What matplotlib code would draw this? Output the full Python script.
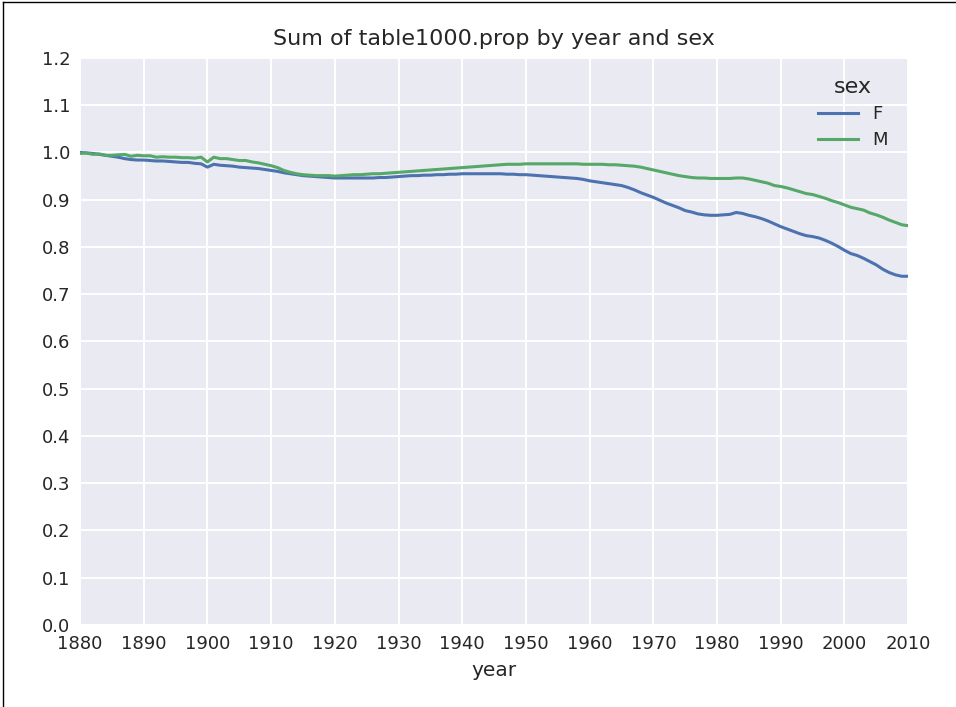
import matplotlib
matplotlib.use("Agg")
import matplotlib.pyplot as plt
from matplotlib.lines import Line2D

years = list(range(1880, 2011))

# Share of births covered by the top 1000 names, females
prop_f = [
    1.000, 0.999, 0.998, 0.996, 0.994, 0.992, 0.990, 0.987, 0.985, 0.984,
    0.984, 0.983, 0.982, 0.982, 0.981, 0.980, 0.979, 0.979, 0.977, 0.976,
    0.969, 0.975, 0.973, 0.972, 0.971, 0.969, 0.968, 0.967, 0.966, 0.964,
    0.962, 0.960, 0.957, 0.955, 0.953, 0.951, 0.950, 0.949, 0.948, 0.947,
    0.946, 0.946, 0.946, 0.946, 0.946, 0.946, 0.946, 0.947, 0.947, 0.948,
    0.949, 0.950, 0.951, 0.951, 0.952, 0.952, 0.953, 0.953, 0.954, 0.954,
    0.955, 0.955, 0.955, 0.955, 0.955, 0.955, 0.955, 0.954, 0.954, 0.953,
    0.953, 0.952, 0.951, 0.950, 0.949, 0.948, 0.947, 0.946, 0.945, 0.943,
    0.940, 0.938, 0.936, 0.934, 0.932, 0.930, 0.926, 0.921, 0.915, 0.910,
    0.905, 0.899, 0.893, 0.888, 0.883, 0.877, 0.874, 0.870, 0.868, 0.867,
    0.867, 0.868, 0.869, 0.873, 0.871, 0.867, 0.864, 0.860, 0.855, 0.849,
    0.843, 0.838, 0.833, 0.828, 0.824, 0.822, 0.819, 0.814, 0.808, 0.801,
    0.793, 0.786, 0.782, 0.776, 0.769, 0.762, 0.753, 0.746, 0.741, 0.738,
    0.738,
]

# Share of births covered by the top 1000 names, males
prop_m = [
    0.998, 0.999, 0.996, 0.997, 0.994, 0.994, 0.995, 0.996, 0.992, 0.994,
    0.993, 0.993, 0.990, 0.991, 0.990, 0.990, 0.989, 0.989, 0.988, 0.990,
    0.980, 0.990, 0.987, 0.987, 0.985, 0.983, 0.983, 0.980, 0.978, 0.975,
    0.972, 0.968, 0.962, 0.958, 0.955, 0.953, 0.952, 0.951, 0.951, 0.951,
    0.950, 0.951, 0.952, 0.953, 0.953, 0.954, 0.955, 0.955, 0.956, 0.957,
    0.958, 0.959, 0.960, 0.961, 0.962, 0.963, 0.964, 0.965, 0.966, 0.967,
    0.968, 0.969, 0.970, 0.971, 0.972, 0.973, 0.974, 0.975, 0.975, 0.975,
    0.976, 0.976, 0.976, 0.976, 0.976, 0.976, 0.976, 0.976, 0.976, 0.975,
    0.975, 0.975, 0.975, 0.974, 0.974, 0.973, 0.972, 0.971, 0.969, 0.966,
    0.963, 0.960, 0.957, 0.954, 0.951, 0.949, 0.947, 0.946, 0.946, 0.945,
    0.945, 0.945, 0.945, 0.946, 0.946, 0.944, 0.941, 0.938, 0.935, 0.930,
    0.928, 0.925, 0.921, 0.917, 0.913, 0.911, 0.907, 0.903, 0.898, 0.894,
    0.889, 0.884, 0.881, 0.878, 0.872, 0.868, 0.863, 0.857, 0.852, 0.847,
    0.845,
]

series_labels = ["F", "M"]
series_colors = ["#4C72B0", "#55A868"]
x_ticks = list(range(1880, 2011, 10))
y_ticks = [round(0.1 * i, 1) for i in range(13)]

text_color = "#262626"
plt.rcParams["font.family"] = ["DejaVu Sans"]

fig = plt.figure(figsize=(9.56, 7.07), dpi=100)
ax = fig.add_axes([0.0837, 0.116, 0.8663, 0.802])
ax.set_facecolor("#EAEAF2")
for s in ax.spines.values():
    s.set_visible(False)
ax.grid(True, color="white", linewidth=1.4)
ax.set_axisbelow(True)

for vals, lab, col in zip([prop_f, prop_m], series_labels, series_colors):
    ax.plot(years, vals, color=col, linewidth=2.2, label=lab)

ax.set_xlim(1880, 2010)
ax.set_ylim(0.0, 1.2)
ax.set_xticks(x_ticks)
ax.set_yticks(y_ticks)
ax.set_yticklabels([f"{v:.1f}" for v in y_ticks])
ax.tick_params(axis="both", length=0, labelsize=13, colors=text_color, pad=7)
ax.set_xlabel("year", fontsize=14.5, color=text_color, labelpad=6)
ax.set_title("Sum of table1000.prop by year and sex", fontsize=16,
             color=text_color, pad=9)

leg = ax.legend(title="sex", frameon=False, fontsize=13, title_fontsize=16,
                loc="upper right", bbox_to_anchor=(0.995, 0.995),
                handlelength=2.2, labelspacing=0.45)
for t in leg.get_texts():
    t.set_color(text_color)
leg.get_title().set_color(text_color)

# thin frame along the top and left edges of the canvas
fig.add_artist(Line2D([0.003, 0.003], [0, 0.997], transform=fig.transFigure,
                      color="black", linewidth=1.0))
fig.add_artist(Line2D([0.003, 1.0], [0.997, 0.997], transform=fig.transFigure,
                      color="black", linewidth=1.0))

fig.savefig("out.png", dpi=100, facecolor="white")
